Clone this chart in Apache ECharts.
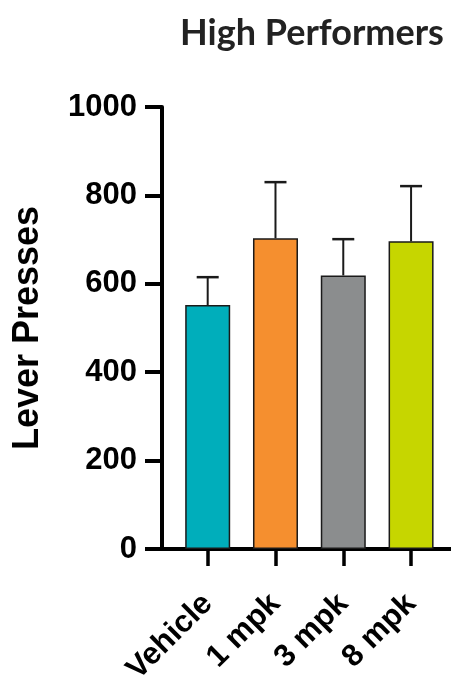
<!DOCTYPE html>
<html>
<head>
<meta charset="utf-8">
<script src="https://cdn.jsdelivr.net/npm/echarts@6/dist/echarts.min.js"></script>
<style>html,body{margin:0;padding:0;background:#fff}#c{width:451px;height:683px}</style>
</head>
<body>
<div id="c"></div>
<script>
const categories = ['Vehicle', '1 mpk', '3 mpk', '8 mpk'];
const means = [552, 703, 619, 696];
const sem = [63, 127, 82, 125];
const colors = ['#00AEBB', '#F58F2F', '#8B8D8E', '#C6D600'];
const yTicks = [0, 200, 400, 600, 800, 1000];

const chart = echarts.init(document.getElementById('c'));
const positions = categories.map((_, i) => i);
const font = "'Liberation Sans', Arial, sans-serif";

chart.setOption({
  animation: false,
  title: {
    text: 'High Performers',
    left: 307, textAlign: 'center', top: 10,
    textStyle: { fontFamily: 'Lato, "Open Sans", sans-serif', fontWeight: 'bold', fontSize: 36, color: '#222' }
  },
  grid: { left: 162, right: 0, top: 107, bottom: 134, containLabel: false, outerBoundsMode: 'none' },
  xAxis: {
    type: 'value',
    min: -0.674, max: 3.589,
    splitLine: { show: false },
    axisLine: { show: true, onZero: false, lineStyle: { color: '#000', width: 4 } },
    axisTick: { show: true, customValues: positions, length: 17, lineStyle: { color: '#000', width: 3.5 } },
    axisLabel: {
      customValues: positions,
      formatter: v => categories[Math.round(v)],
      rotate: 45, margin: 50,
      fontFamily: font, fontWeight: 'bold', fontSize: 31, color: '#000'
    }
  },
  yAxis: {
    type: 'value', min: yTicks[0], max: yTicks[yTicks.length - 1], interval: 200,
    name: 'Lever Presses', nameLocation: 'middle', nameGap: 116, nameRotate: 90,
    nameTextStyle: { fontFamily: font, fontWeight: 'bold', fontSize: 36, color: '#000' },
    splitLine: { show: false },
    axisLine: { show: true, onZero: false, lineStyle: { color: '#000', width: 4 } },
    axisTick: { show: true, length: 17, lineStyle: { color: '#000', width: 4 } },
    axisLabel: { margin: 25, formatter: v => String(v), fontFamily: font, fontWeight: 'bold', fontSize: 31, color: '#000' }
  },
  series: [
    {
      type: 'bar',
      barWidth: 45,
      data: means.map((m, i) => ({ value: [positions[i], m], itemStyle: { color: colors[i] } })),
      itemStyle: { borderColor: '#1a1a1a', borderWidth: 1.5 },
      z: 2
    },
    {
      type: 'custom',
      z: 3,
      data: means.map((m, i) => [positions[i], m, m + sem[i]]),
      renderItem: (params, api) => {
        const x = api.value(0);
        const base = api.coord([x, api.value(1)]);
        const top = api.coord([x, api.value(2)]);
        const half = 11;
        return {
          type: 'group',
          children: [
            { type: 'line', shape: { x1: base[0], y1: base[1], x2: top[0], y2: top[1] }, style: { stroke: '#1a1a1a', lineWidth: 2 } },
            { type: 'line', shape: { x1: top[0] - half, y1: top[1], x2: top[0] + half, y2: top[1] }, style: { stroke: '#1a1a1a', lineWidth: 2.5 } }
          ]
        };
      }
    }
  ]
});
</script>
</body>
</html>
